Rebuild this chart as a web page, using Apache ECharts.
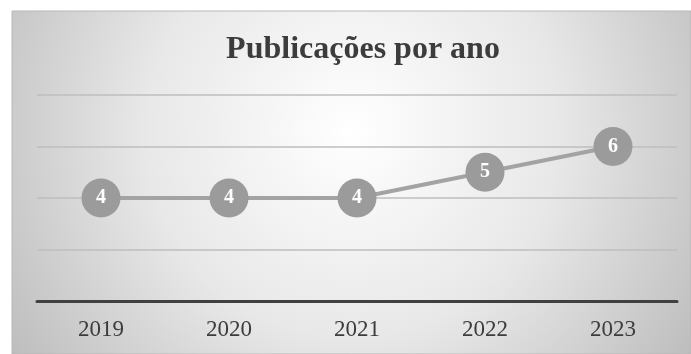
<!DOCTYPE html>
<html>
<head>
<meta charset="utf-8">
<style>
  html, body { margin: 0; padding: 0; background: #ffffff; }
  #chart { width: 691px; height: 354px; }
</style>
<script src="https://cdn.jsdelivr.net/npm/echarts@6/dist/echarts.min.js"></script>
</head>
<body>
<div id="chart"></div>
<script>
// Yearly publication counts
const years = ['2019', '2020', '2021', '2022', '2023'];
const publications = [4, 4, 4, 5, 6];
const titleText = 'Publicações por ano';

const chart = echarts.init(document.getElementById('chart'), null, { renderer: 'canvas' });

chart.setOption({
  backgroundColor: '#ffffff',
  animation: false,
  graphic: [{
    type: 'rect',
    z: -10,
    silent: true,
    shape: { x: 12, y: 11, width: 679, height: 343 },
    style: {
      fill: {
        type: 'radial', x: 0.5, y: 0.35, r: 1.2,
        colorStops: [
          { offset: 0, color: '#ffffff' },
          { offset: 0.5, color: '#e8e8e8' },
          { offset: 1, color: '#bcbcbc' }
        ]
      },
      stroke: '#b8b8b8',
      lineWidth: 1
    }
  }],
  title: {
    text: titleText,
    left: 358,
    textAlign: 'center',
    top: 29,
    textStyle: {
      fontFamily: 'Liberation Serif',
      fontWeight: 'bold',
      fontSize: 32,
      color: '#3c3c3c'
    }
  },
  grid: { left: 37, right: 14, top: 95, bottom: 53 },
  xAxis: {
    type: 'category',
    data: years,
    boundaryGap: true,
    axisTick: { show: false },
    axisLine: { lineStyle: { color: '#404040', width: 3 } },
    axisLabel: {
      margin: 17,
      fontFamily: 'Liberation Serif',
      fontSize: 23,
      color: '#3c3c3c'
    }
  },
  yAxis: {
    type: 'value',
    min: 0,
    max: 8,
    interval: 2,
    axisLabel: { show: false },
    axisLine: { show: false },
    axisTick: { show: false },
    splitLine: { lineStyle: { color: '#bebebe', width: 1.5 } }
  },
  series: [{
    type: 'line',
    data: publications,
    symbol: 'circle',
    symbolSize: 39,
    lineStyle: { color: '#a3a3a3', width: 4 },
    itemStyle: { color: '#9b9b9b', borderWidth: 0 },
    label: {
      show: true,
      position: 'inside',
      fontFamily: 'Liberation Serif',
      fontWeight: 'bold',
      fontSize: 20,
      color: '#ffffff'
    }
  }]
});
</script>
</body>
</html>
